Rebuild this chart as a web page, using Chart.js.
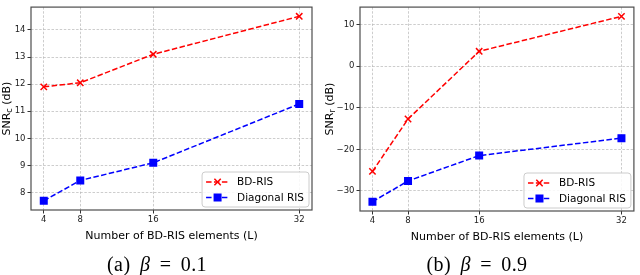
<!DOCTYPE html>
<html>
<head>
<meta charset="utf-8">
<script src="https://cdn.jsdelivr.net/npm/chart.js@4.4.1/dist/chart.umd.min.js"></script>
<style>
  html, body { margin: 0; padding: 0; background: #fff; }
  #wrap { position: relative; width: 640px; height: 275px; overflow: hidden; }
  canvas { position: absolute; top: 0; }
  .cap {
    position: absolute; top: 253px; transform: translateX(-50%);
    font-family: 'Liberation Serif', serif; font-size: 20px; line-height: 22px;
    letter-spacing: 0.4px; word-spacing: 4px;
    color: #000; white-space: nowrap;
  }
</style>
</head>
<body>
<div id="wrap">
  <canvas id="chartA" width="320" height="275" style="left:0"></canvas>
  <canvas id="chartB" width="320" height="275" style="left:320px"></canvas>
  <div class="cap" style="left:157px">(a) <i>β</i> = 0.1</div>
  <div class="cap" style="left:477px">(b) <i>β</i> = 0.9</div>
</div>
<script>
// ---- data ----
const elements = [4, 8, 16, 32];
const seriesNames = ['BD-RIS', 'Diagonal RIS'];
const bdA = [11.9, 12.05, 13.1, 14.5];
const diagA = [7.7, 8.45, 9.1, 11.27];
const bdB = [-25.3, -12.7, 3.6, 12.0];
const diagB = [-32.6, -27.6, -21.5, -17.3];
const yTicksA = [8, 9, 10, 11, 12, 13, 14];
const yTicksB = [-30, -20, -10, 0, 10];
const xTitle = 'Number of BD-RIS elements (L)';

const FONT = "'DejaVu Sans', sans-serif";
const RED = '#ff0000';
const BLUE = '#0000ff';
const markers = [
  { color: RED, style: 'crossRot', r: 4.5 },
  { color: BLUE, style: 'rect', r: 4.6 }
];

// matplotlib-like 5% margins
function padRange(vals) {
  const lo = Math.min(...vals), hi = Math.max(...vals), m = (hi - lo) * 0.05;
  return [lo - m, hi + m];
}

const fmt = v => (v < 0 ? '\u2212' + Math.abs(v) : String(v));

function drawMarker(ctx, m, x, y) {
  ctx.save();
  ctx.strokeStyle = m.color;
  ctx.fillStyle = m.color;
  ctx.lineWidth = 1.5;
  ctx.setLineDash([]);
  if (m.style === 'rect') {
    const s = m.r * Math.SQRT1_2;
    ctx.fillRect(x - s, y - s, 2 * s, 2 * s);
    ctx.strokeRect(x - s, y - s, 2 * s, 2 * s);
  } else {
    const o = m.r * Math.SQRT1_2;
    ctx.beginPath();
    ctx.moveTo(x - o, y - o); ctx.lineTo(x + o, y + o);
    ctx.moveTo(x - o, y + o); ctx.lineTo(x + o, y - o);
    ctx.stroke();
  }
  ctx.restore();
}

// frame, axis titles and legend
const decor = {
  id: 'decor',
  afterDatasetsDraw(chart, args, opts) {
    const { ctx, chartArea: a } = chart;
    ctx.save();
    ctx.strokeStyle = '#4d4d4d';
    ctx.lineWidth = 1.2;
    ctx.strokeRect(a.left, a.top, a.right - a.left, a.bottom - a.top);

    // legend
    ctx.font = '10.5px ' + FONT;
    const tw = Math.max(...seriesNames.map(s => ctx.measureText(s).width));
    const bw = 40 + tw, bh = 35;
    const bx = a.right - 3 - bw, by = a.bottom - 3 - bh;
    ctx.beginPath();
    ctx.roundRect(bx, by, bw, bh, 3);
    ctx.fillStyle = 'rgba(255,255,255,0.85)';
    ctx.fill();
    ctx.strokeStyle = '#cccccc';
    ctx.lineWidth = 1;
    ctx.stroke();
    seriesNames.forEach((name, i) => {
      const y = by + 10 + i * 15.5;
      ctx.strokeStyle = markers[i].color;
      ctx.lineWidth = 1.5;
      ctx.setLineDash([5.5, 2.4]);
      ctx.beginPath();
      ctx.moveTo(bx + 4, y); ctx.lineTo(bx + 27, y);
      ctx.stroke();
      ctx.setLineDash([]);
      drawMarker(ctx, markers[i], bx + 15.5, y);
      ctx.fillStyle = '#000';
      ctx.textBaseline = 'middle';
      ctx.textAlign = 'left';
      ctx.fillText(name, bx + 35, y + 0.5);
    });
    ctx.restore();
  },
  afterDraw(chart, args, opts) {
    const { ctx, chartArea: a } = chart;
    ctx.save();
    ctx.fillStyle = '#000';
    // x title
    ctx.font = '11px ' + FONT;
    ctx.textAlign = 'center';
    ctx.textBaseline = 'middle';
    ctx.fillText(xTitle, (a.left + a.right) / 2, a.bottom + 26);
    // y title with subscript
    const parts = [['SNR', 11, 0], [opts.sub, 8, 3], [' (dB)', 11, 0]];
    let total = 0;
    parts.forEach(p => { ctx.font = p[1] + 'px ' + FONT; p.push(ctx.measureText(p[0]).width); total += p[3]; });
    ctx.translate(opts.titleX, (a.top + a.bottom) / 2);
    ctx.rotate(-Math.PI / 2);
    ctx.textAlign = 'left';
    let x = -total / 2;
    parts.forEach(p => {
      ctx.font = p[1] + 'px ' + FONT;
      ctx.fillText(p[0], x, p[2]);
      x += p[3];
    });
    ctx.restore();
  }
};

function buildChart(id, bd, diag, yTicks, sub, lay) {
  const ctx = document.getElementById(id).getContext('2d');
  const [xmin, xmax] = padRange(elements);
  const [ymin, ymax] = padRange(bd.concat(diag));
  const series = [bd, diag];
  return new Chart(ctx, {
    type: 'line',
    data: {
      datasets: series.map((vals, i) => ({
        label: seriesNames[i],
        data: elements.map((x, j) => ({ x, y: vals[j] })),
        borderColor: markers[i].color,
        backgroundColor: markers[i].color,
        borderWidth: 1.5,
        borderDash: [5.5, 2.4],
        pointStyle: markers[i].style,
        pointRadius: markers[i].r,
        pointBorderWidth: 1.5,
        pointBackgroundColor: markers[i].color,
        pointBorderColor: markers[i].color,
        tension: 0,
        fill: false,
        clip: false
      }))
    },
    options: {
      responsive: false,
      animation: false,
      layout: { padding: lay.padding },
      plugins: {
        legend: { display: false },
        tooltip: { enabled: false },
        decor: { sub, titleX: lay.titleX }
      },
      scales: {
        x: {
          type: 'linear', min: xmin, max: xmax,
          afterBuildTicks: s => { s.ticks = elements.map(v => ({ value: v })); },
          afterFit: s => { s.height = 20; },
          grid: { color: 'rgba(176,176,176,0.8)', lineWidth: 0.8, tickLength: 3.5, tickColor: '#333', tickWidth: 1 },
          border: { display: false, dash: [2.5, 1.6] },
          ticks: { font: { family: FONT, size: 8.5 }, color: '#222', padding: 1, maxRotation: 0, autoSkip: false, callback: fmt }
        },
        y: {
          type: 'linear', min: ymin, max: ymax,
          afterBuildTicks: s => { s.ticks = yTicks.map(v => ({ value: v })); },
          afterFit: s => { s.width = lay.yWidth; },
          grid: { color: 'rgba(176,176,176,0.8)', lineWidth: 0.8, tickLength: 3.5, tickColor: '#333', tickWidth: 1 },
          border: { display: false, dash: [2.5, 1.6] },
          ticks: { font: { family: FONT, size: 8.5 }, color: '#222', padding: 2, autoSkip: false, callback: fmt }
        }
      }
    },
    plugins: [decor]
  });
}

buildChart('chartA', bdA, diagA, yTicksA, 'c',
  { padding: { left: 0, top: 1, right: 8, bottom: 45 }, yWidth: 31, titleX: 7 });
buildChart('chartB', bdB, diagB, yTicksB, 'r',
  { padding: { left: 0, top: 4, right: 6, bottom: 44 }, yWidth: 40, titleX: 10 });
</script>
</body>
</html>
